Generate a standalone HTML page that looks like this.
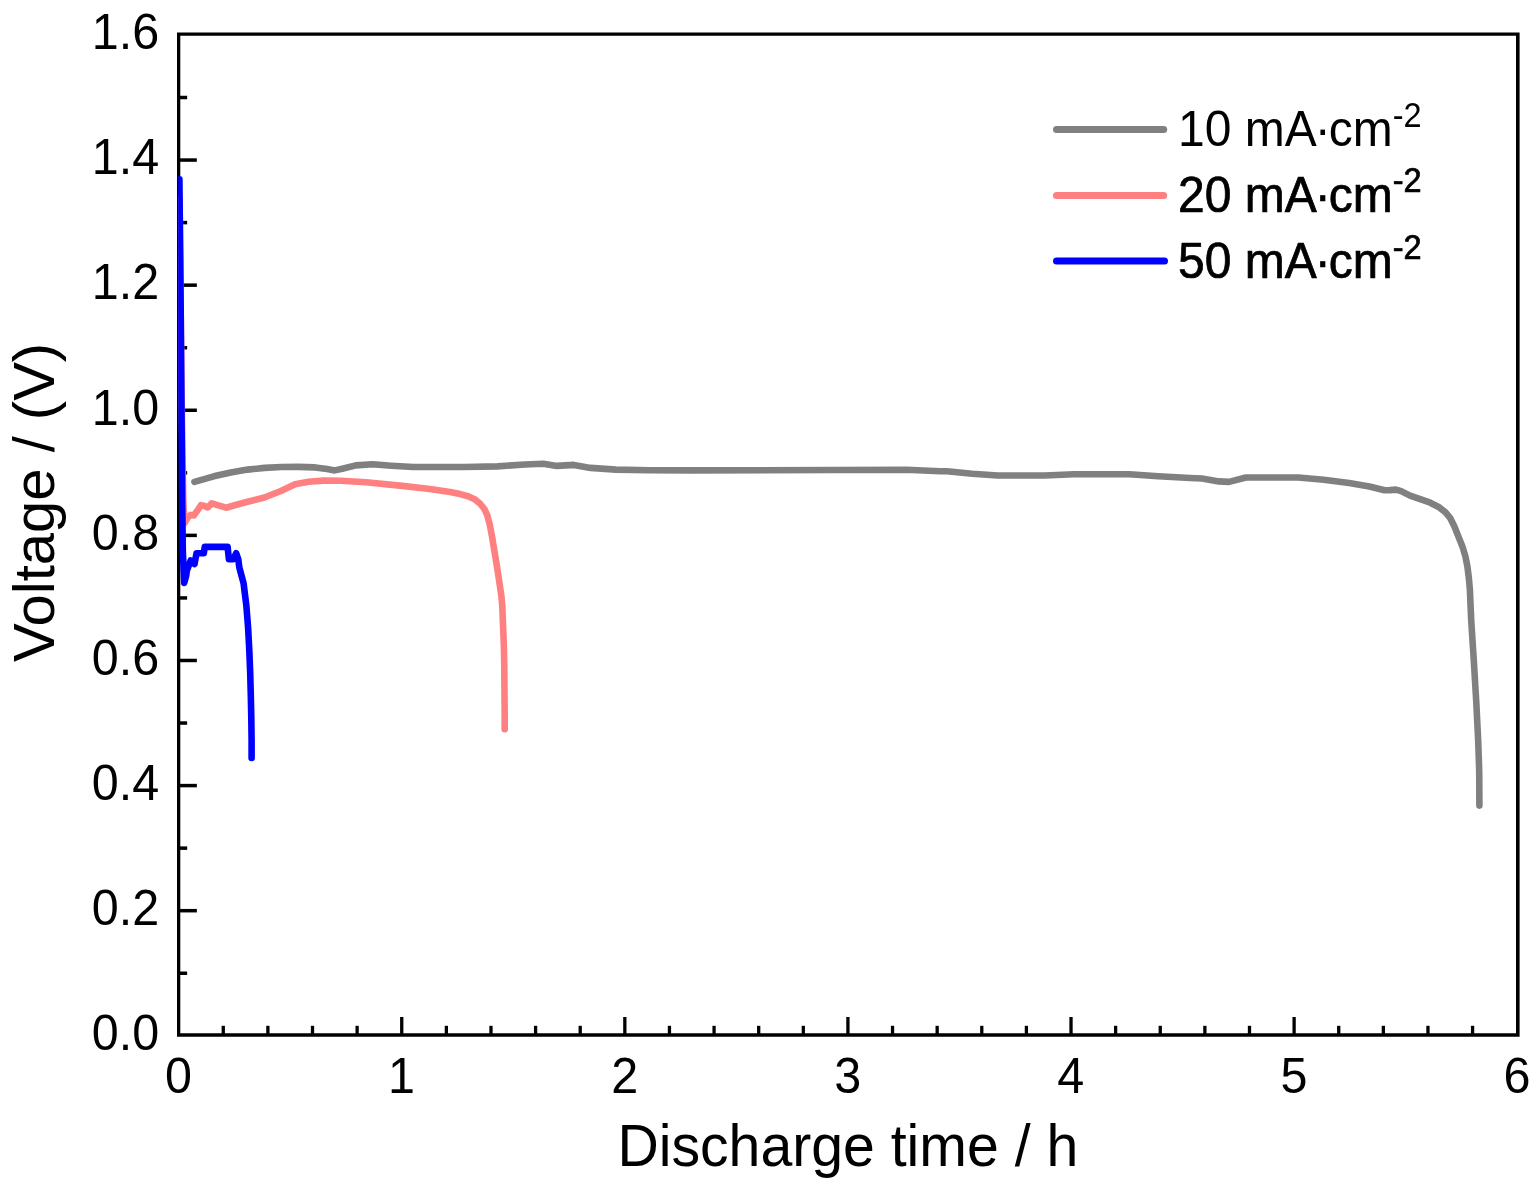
<!DOCTYPE html>
<html><head><meta charset="utf-8"><title>Discharge curves</title>
<style>
html,body{margin:0;padding:0;background:#fff;}
body{width:1538px;height:1194px;overflow:hidden;}
svg{display:block;}
text{font-family:"Liberation Sans",sans-serif;fill:#000;}
.tick{font-size:48.5px;}
.axl{font-size:57.2px;}
.leg{font-size:48.0px;}
</style></head><body>
<svg width="1538" height="1194" viewBox="0 0 1538 1194">
<rect x="0" y="0" width="1538" height="1194" fill="#ffffff"/>
<g stroke="#000" stroke-width="3.30" fill="none" stroke-linecap="butt">
<path fill="#000" stroke="none" fill-rule="evenodd" d="M177 32.55H1519.6V1036.85H177Z M180.3 35.85V1033.15H1516V35.85Z"/>
<line x1="223.27" y1="1035.00" x2="223.27" y2="1025.80"/>
<line x1="267.89" y1="1035.00" x2="267.89" y2="1025.80"/>
<line x1="312.50" y1="1035.00" x2="312.50" y2="1025.80"/>
<line x1="357.12" y1="1035.00" x2="357.12" y2="1025.80"/>
<line x1="401.74" y1="1035.00" x2="401.74" y2="1017.00"/>
<line x1="446.36" y1="1035.00" x2="446.36" y2="1025.80"/>
<line x1="490.98" y1="1035.00" x2="490.98" y2="1025.80"/>
<line x1="535.60" y1="1035.00" x2="535.60" y2="1025.80"/>
<line x1="580.22" y1="1035.00" x2="580.22" y2="1025.80"/>
<line x1="624.83" y1="1035.00" x2="624.83" y2="1017.00"/>
<line x1="669.45" y1="1035.00" x2="669.45" y2="1025.80"/>
<line x1="714.07" y1="1035.00" x2="714.07" y2="1025.80"/>
<line x1="758.69" y1="1035.00" x2="758.69" y2="1025.80"/>
<line x1="803.31" y1="1035.00" x2="803.31" y2="1025.80"/>
<line x1="847.92" y1="1035.00" x2="847.92" y2="1017.00"/>
<line x1="892.54" y1="1035.00" x2="892.54" y2="1025.80"/>
<line x1="937.16" y1="1035.00" x2="937.16" y2="1025.80"/>
<line x1="981.78" y1="1035.00" x2="981.78" y2="1025.80"/>
<line x1="1026.40" y1="1035.00" x2="1026.40" y2="1025.80"/>
<line x1="1071.02" y1="1035.00" x2="1071.02" y2="1017.00"/>
<line x1="1115.63" y1="1035.00" x2="1115.63" y2="1025.80"/>
<line x1="1160.25" y1="1035.00" x2="1160.25" y2="1025.80"/>
<line x1="1204.87" y1="1035.00" x2="1204.87" y2="1025.80"/>
<line x1="1249.49" y1="1035.00" x2="1249.49" y2="1025.80"/>
<line x1="1294.11" y1="1035.00" x2="1294.11" y2="1017.00"/>
<line x1="1338.73" y1="1035.00" x2="1338.73" y2="1025.80"/>
<line x1="1383.35" y1="1035.00" x2="1383.35" y2="1025.80"/>
<line x1="1427.96" y1="1035.00" x2="1427.96" y2="1025.80"/>
<line x1="1472.58" y1="1035.00" x2="1472.58" y2="1025.80"/>
<line x1="178.65" y1="973.25" x2="187.15" y2="973.25" stroke-width="3.5"/>
<line x1="178.65" y1="910.69" x2="196.85" y2="910.69" stroke-width="3.5"/>
<line x1="178.65" y1="848.14" x2="187.15" y2="848.14" stroke-width="3.5"/>
<line x1="178.65" y1="785.59" x2="196.85" y2="785.59" stroke-width="3.5"/>
<line x1="178.65" y1="723.03" x2="187.15" y2="723.03" stroke-width="3.5"/>
<line x1="178.65" y1="660.48" x2="196.85" y2="660.48" stroke-width="3.5"/>
<line x1="178.65" y1="597.93" x2="187.15" y2="597.93" stroke-width="3.5"/>
<line x1="178.65" y1="535.38" x2="196.85" y2="535.38" stroke-width="3.5"/>
<line x1="178.65" y1="472.82" x2="187.15" y2="472.82" stroke-width="3.5"/>
<line x1="178.65" y1="410.27" x2="196.85" y2="410.27" stroke-width="3.5"/>
<line x1="178.65" y1="347.72" x2="187.15" y2="347.72" stroke-width="3.5"/>
<line x1="178.65" y1="285.16" x2="196.85" y2="285.16" stroke-width="3.5"/>
<line x1="178.65" y1="222.61" x2="187.15" y2="222.61" stroke-width="3.5"/>
<line x1="178.65" y1="160.06" x2="196.85" y2="160.06" stroke-width="3.5"/>
<line x1="178.65" y1="97.50" x2="187.15" y2="97.50" stroke-width="3.5"/>
</g>
<defs><clipPath id="plotclip"><rect x="178.15" y="34" width="1340" height="1001"/></clipPath></defs>
<g clip-path="url(#plotclip)" fill="none" stroke-width="6.60" stroke-linejoin="round" stroke-linecap="round">
<path d="M194.4 481.9 L213.8 476.3 L230.7 472.5 L247.6 469.6 L264.5 467.9 L281.4 467.0 L298.3 466.9 L315.2 467.4 L327.1 469.1 L334.7 470.4 L342.3 468.7 L355.8 465.4 L372.7 464.2 L391.3 465.7 L413.3 467.0 L440.0 467.0 L463.8 467.0 L497.6 466.4 L524.7 464.5 L543.3 463.7 L556.8 465.9 L573.7 464.9 L590.6 467.9 L616.0 469.6 L649.8 470.3 L690.0 470.4 L906.5 469.8 L940.0 471.3 L946.9 471.3 L972.3 473.8 L997.6 475.5 L1045.0 475.5 L1073.7 474.3 L1129.5 474.3 L1158.2 476.3 L1190.0 478.0 L1202.0 478.5 L1218.9 481.4 L1229.0 481.9 L1245.9 477.5 L1298.3 477.5 L1323.7 479.7 L1349.1 483.1 L1369.3 486.5 L1384.6 490.2 L1390.0 490.1 L1396.0 489.6 L1401.1 491.1 L1410.1 495.6 L1420.2 499.1 L1430.2 502.7 L1438.2 506.7 L1445.3 512.2 L1450.3 518.2 L1454.3 526.3 L1458.3 536.3 L1462.4 546.4 L1465.4 556.4 L1467.4 566.5 L1468.9 578.5 L1469.9 590.0 L1471.2 620.2 L1473.8 660.4 L1476.2 700.6 L1478.2 740.8 L1479.2 770.9 L1479.4 805.6" stroke="#808080"/>
<path d="M179.6 200.0 L181.6 400.0 L183.3 500.0 L184.4 523.4 L188.0 517.2 L190.5 514.9 L193.8 515.5 L198.2 509.3 L201.0 505.1 L204.0 505.8 L207.7 507.5 L211.5 503.4 L215.0 504.3 L226.0 507.7 L243.7 502.8 L264.5 497.5 L281.4 490.7 L295.0 484.3 L308.5 481.8 L323.7 480.6 L340.6 480.7 L366.0 482.3 L399.8 485.6 L430.0 489.0 L440.0 490.6 L450.1 492.1 L460.1 494.1 L468.1 496.3 L475.2 499.6 L480.2 503.7 L484.2 508.7 L487.2 515.2 L489.7 524.3 L491.8 535.3 L494.3 550.4 L496.8 565.5 L498.8 578.5 L500.5 590.0 L501.4 596.0 L502.3 606.8 L503.1 626.9 L503.9 647.0 L504.3 667.1 L504.5 693.9 L504.7 714.0 L504.7 729.3" stroke="#ff8080"/>
<path d="M179.4 179.4 L180.7 310.0 L180.9 335.0 L182.3 510.0 L182.8 550.0 L184.2 582.9 L186.2 575.6 L186.7 571.0 L190.7 560.5 L194.5 564.1 L196.5 553.3 L203.8 553.3 L204.8 546.8 L227.6 546.9 L228.9 559.1 L233.4 559.1 L236.2 553.2 L238.3 559.4 L239.3 567.3 L243.6 583.4 L244.4 590.0 L246.3 605.1 L248.1 627.7 L249.3 650.3 L250.2 672.9 L250.8 695.5 L251.3 718.1 L251.6 740.7 L251.6 758.0" stroke="#0000ff"/>
</g>
<text class="tick" transform="translate(178.45 1092.90) scale(1 1.0450)" text-anchor="middle">0</text>
<text class="tick" transform="translate(401.54 1092.90) scale(1 1.0450)" text-anchor="middle">1</text>
<text class="tick" transform="translate(624.63 1092.90) scale(1 1.0450)" text-anchor="middle">2</text>
<text class="tick" transform="translate(847.72 1092.90) scale(1 1.0450)" text-anchor="middle">3</text>
<text class="tick" transform="translate(1070.82 1092.90) scale(1 1.0450)" text-anchor="middle">4</text>
<text class="tick" transform="translate(1293.91 1092.90) scale(1 1.0450)" text-anchor="middle">5</text>
<text class="tick" transform="translate(1517.00 1092.90) scale(1 1.0450)" text-anchor="middle">6</text>
<text class="tick" transform="translate(159.20 1050.10) scale(1 1.0450)" text-anchor="end">0.0</text>
<text class="tick" transform="translate(159.20 924.99) scale(1 1.0450)" text-anchor="end">0.2</text>
<text class="tick" transform="translate(159.20 799.89) scale(1 1.0450)" text-anchor="end">0.4</text>
<text class="tick" transform="translate(159.20 674.78) scale(1 1.0450)" text-anchor="end">0.6</text>
<text class="tick" transform="translate(159.20 549.68) scale(1 1.0450)" text-anchor="end">0.8</text>
<text class="tick" transform="translate(159.20 424.57) scale(1 1.0450)" text-anchor="end">1.0</text>
<text class="tick" transform="translate(159.20 299.46) scale(1 1.0450)" text-anchor="end">1.2</text>
<text class="tick" transform="translate(159.20 174.36) scale(1 1.0450)" text-anchor="end">1.4</text>
<text class="tick" transform="translate(159.20 49.25) scale(1 1.0450)" text-anchor="end">1.6</text>
<text class="axl" transform="translate(847.80 1166.00) scale(1 1.0300)" text-anchor="middle">Discharge time / h</text>
<text class="axl" transform="translate(53.70 502.40) rotate(-90) scale(1.0140 1)" text-anchor="middle">Voltage / (V)</text>
<line x1="1056.5" y1="129.6" x2="1163.7" y2="129.6" stroke="#808080" stroke-width="7" stroke-linecap="round"/>
<text class="leg" transform="translate(1178.00 145.80) scale(1 1.0570)" text-anchor="start">10 mA<tspan dx="-2">·</tspan><tspan dx="-2">cm</tspan><tspan dy="-18.2" font-size="32.5px">-2</tspan></text>
<line x1="1056.5" y1="195.5" x2="1163.7" y2="195.5" stroke="#ff8080" stroke-width="7" stroke-linecap="round"/>
<text class="leg" stroke="#000" stroke-width="0.7" stroke-linejoin="round" transform="translate(1178.00 211.70) scale(1 1.0570)" text-anchor="start">20 mA<tspan dx="-2">·</tspan><tspan dx="-2">cm</tspan><tspan dy="-18.2" font-size="32.5px">-2</tspan></text>
<line x1="1056.5" y1="260.9" x2="1164.5" y2="260.9" stroke="#0000ff" stroke-width="7" stroke-linecap="round"/>
<text class="leg" stroke="#000" stroke-width="0.7" stroke-linejoin="round" transform="translate(1178.00 277.80) scale(1 1.0570)" text-anchor="start">50 mA<tspan dx="-2">·</tspan><tspan dx="-2">cm</tspan><tspan dy="-18.2" font-size="32.5px">-2</tspan></text>
</svg>
</body></html>
